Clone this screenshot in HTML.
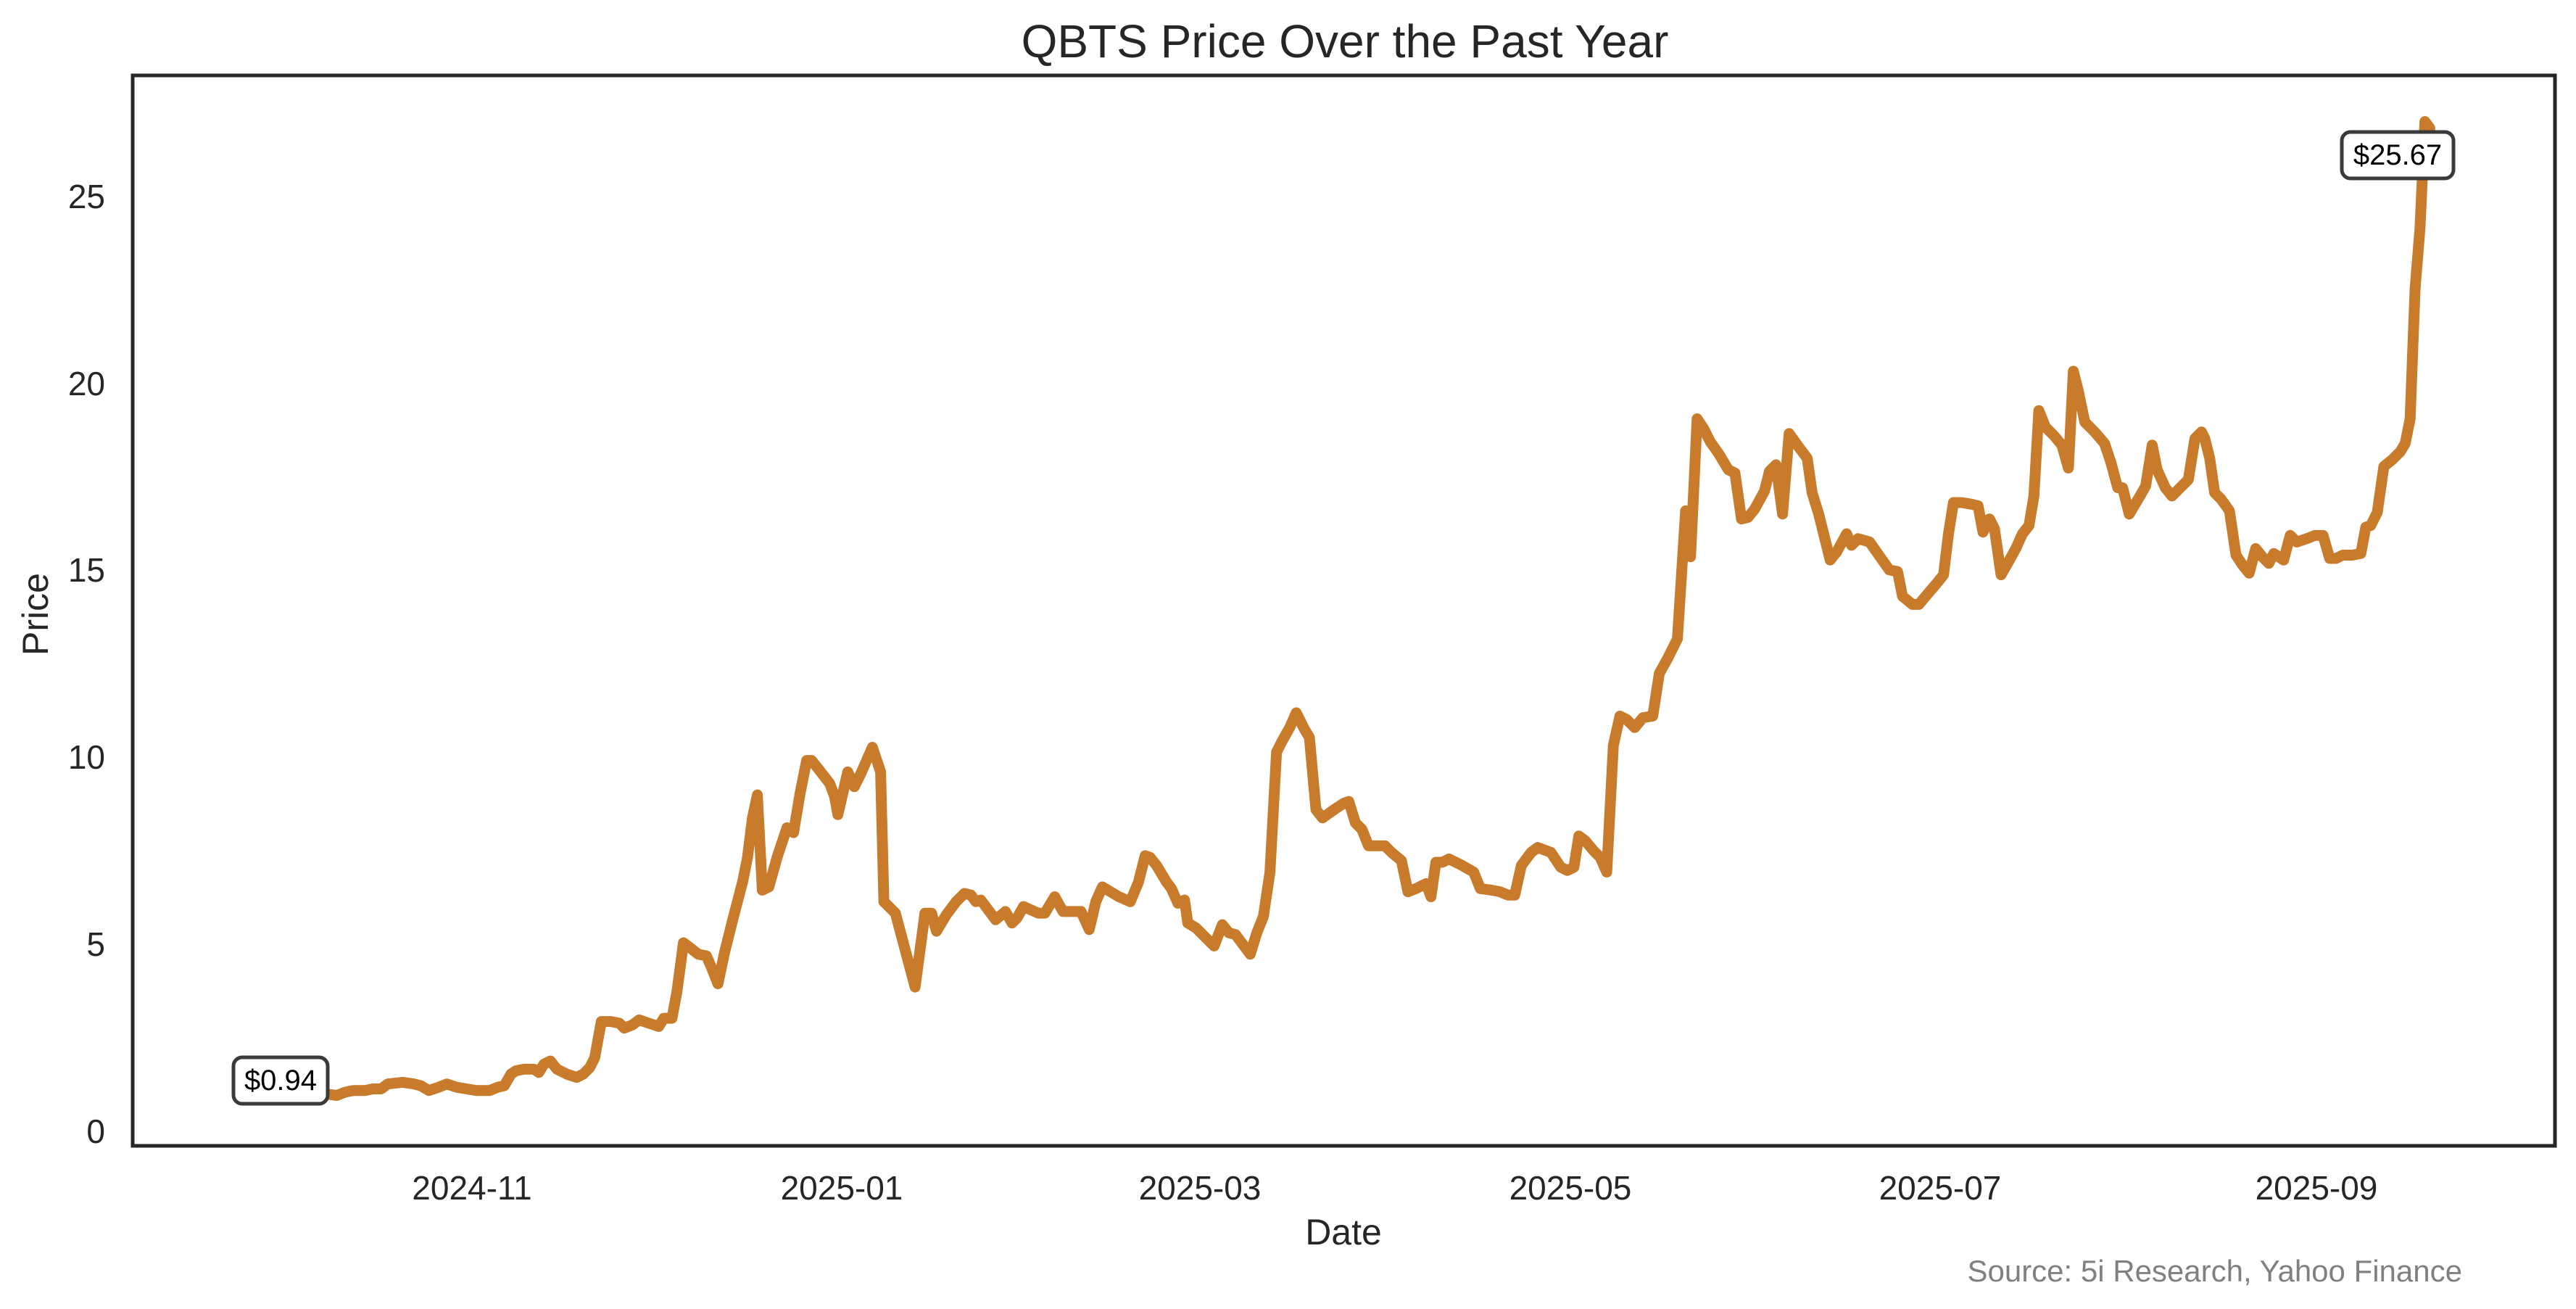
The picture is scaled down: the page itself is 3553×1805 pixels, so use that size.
<!DOCTYPE html>
<html><head><meta charset="utf-8"><style>
html,body{margin:0;padding:0;background:#fff;}
svg{display:block;font-family:"Liberation Sans",Arial,sans-serif;}
</style></head><body>
<svg width="3553" height="1805" viewBox="0 0 3553 1805" xmlns="http://www.w3.org/2000/svg">
<rect width="3553" height="1805" fill="#fff"/>
<text x="1855" y="79" font-size="64" text-anchor="middle" fill="#262626">QBTS Price Over the Past Year</text>
<g transform="scale(2.266,2.2647)">
<polyline fill="none" stroke="#c77b2b" stroke-width="6.6" stroke-linejoin="round" stroke-linecap="round" points="198,666 205,667 210,665 215,664 222,664 227,663 232,663 236,660 245,659 252,660 256,661 261,664 267,662 272,660 278,662 284,663 290,664 298,664 303,662 307,661 311,654 314,652 319,651 325,651 328,653 331,648 335,646 339,651 345,654 351,656 355,654 359,650 362,644 366,622 372,622 377,623 380,626 385,624 389,621 395,623 401,625 404,620 409,620 412,604 416,574 420,577 425,581 430,582 433,589 437,599 441,580 446,560 452,537 455,522 458,498 461,484 464,542 468,540 473,522 479,504 483,507 487,483 491,463 494,463 498,468 505,477 508,485 510,496 516,470 520,479 524,471 531,455 536,470 538,549 545,556 557,601 563,556 567,556 570,567 576,557 582,549 587,544 591,545 594,549 597,548 603,556 606,560 612,555 616,562 619,559 623,552 632,556 636,556 642,546 647,555 651,555 658,555 663,566 667,549 671,540 676,543 681,546 688,549 693,537 697,521 700,522 704,527 710,537 713,541 717,550 721,548 723,562 728,565 733,570 739,576 744,563 748,568 752,569 755,573 761,581 765,568 769,558 773,531 777,458 780,452 785,443 789,434 794,444 797,449 801,493 805,498 812,493 818,489 821,488 825,501 829,505 833,515 839,515 843,515 847,519 853,524 857,543 862,541 868,538 871,546 874,525 878,525 882,523 890,527 897,531 901,541 908,542 913,543 918,545 922,545 926,527 932,519 936,516 944,519 950,528 954,530 958,528 961,509 965,512 970,518 974,522 978,531 982,454 986,436 990,438 995,443 1000,437 1006,436 1010,410 1015,401 1021,389 1026,311 1029,339 1033,255 1037,261 1041,269 1046,276 1052,286 1056,288 1060,316 1064,315 1068,310 1074,299 1077,287 1081,283 1085,313 1089,264 1094,271 1100,279 1103,300 1107,313 1114,341 1118,336 1124,325 1127,332 1131,328 1138,330 1145,340 1150,347 1155,348 1158,363 1164,368 1168,368 1173,362 1179,355 1183,350 1186,325 1189,306 1194,306 1200,307 1204,308 1207,324 1211,316 1214,322 1218,350 1222,343 1227,334 1231,325 1235,320 1238,302 1241,250 1245,260 1250,265 1255,271 1259,285 1262,226 1265,238 1269,257 1275,263 1281,270 1285,282 1289,297 1292,297 1296,313 1302,303 1306,296 1310,271 1313,286 1318,297 1322,302 1327,297 1332,292 1336,267 1340,263 1342,267 1345,279 1348,300 1352,304 1357,311 1361,338 1365,344 1369,349 1373,334 1377,339 1381,343 1384,337 1390,341 1394,326 1398,330 1404,328 1409,326 1414,326 1418,340 1422,340 1426,338 1432,338 1437,337 1440,321 1443,320 1447,312 1451,284 1456,280 1461,275 1464,270 1467,255 1470,176 1473,139 1476,74 1479,78"/>
</g>
<rect x="183" y="104" width="3341" height="1476" fill="none" stroke="#262626" stroke-width="5"/>
<rect x="322" y="1458" width="130" height="64" rx="12" fill="#fff" stroke="#3a3a3a" stroke-width="5"/>
<text x="387" y="1503" font-size="40" text-anchor="middle" fill="#000">$0.94</text>
<rect x="3230" y="182" width="154" height="64" rx="12" fill="#fff" stroke="#3a3a3a" stroke-width="5"/>
<text x="3307" y="227" font-size="40" text-anchor="middle" fill="#000">$25.67</text>
<g font-size="46" fill="#262626" text-anchor="end">
<text x="145" y="1576">0</text>
<text x="145" y="1318">5</text>
<text x="145" y="1060">10</text>
<text x="145" y="802">15</text>
<text x="145" y="545">20</text>
<text x="145" y="287">25</text>
</g>
<text transform="translate(66,847) rotate(-90)" font-size="50" text-anchor="middle" fill="#262626">Price</text>
<g font-size="46" fill="#262626" text-anchor="middle">
<text x="651" y="1654">2024-11</text>
<text x="1161" y="1654">2025-01</text>
<text x="1655" y="1654">2025-03</text>
<text x="2166" y="1654">2025-05</text>
<text x="2676" y="1654">2025-07</text>
<text x="3195" y="1654">2025-09</text>
</g>
<text x="1853" y="1716" font-size="50" text-anchor="middle" fill="#262626">Date</text>
<text x="3396" y="1767" font-size="42" text-anchor="end" fill="#808080">Source: 5i Research, Yahoo Finance</text>
</svg>
</body></html>
